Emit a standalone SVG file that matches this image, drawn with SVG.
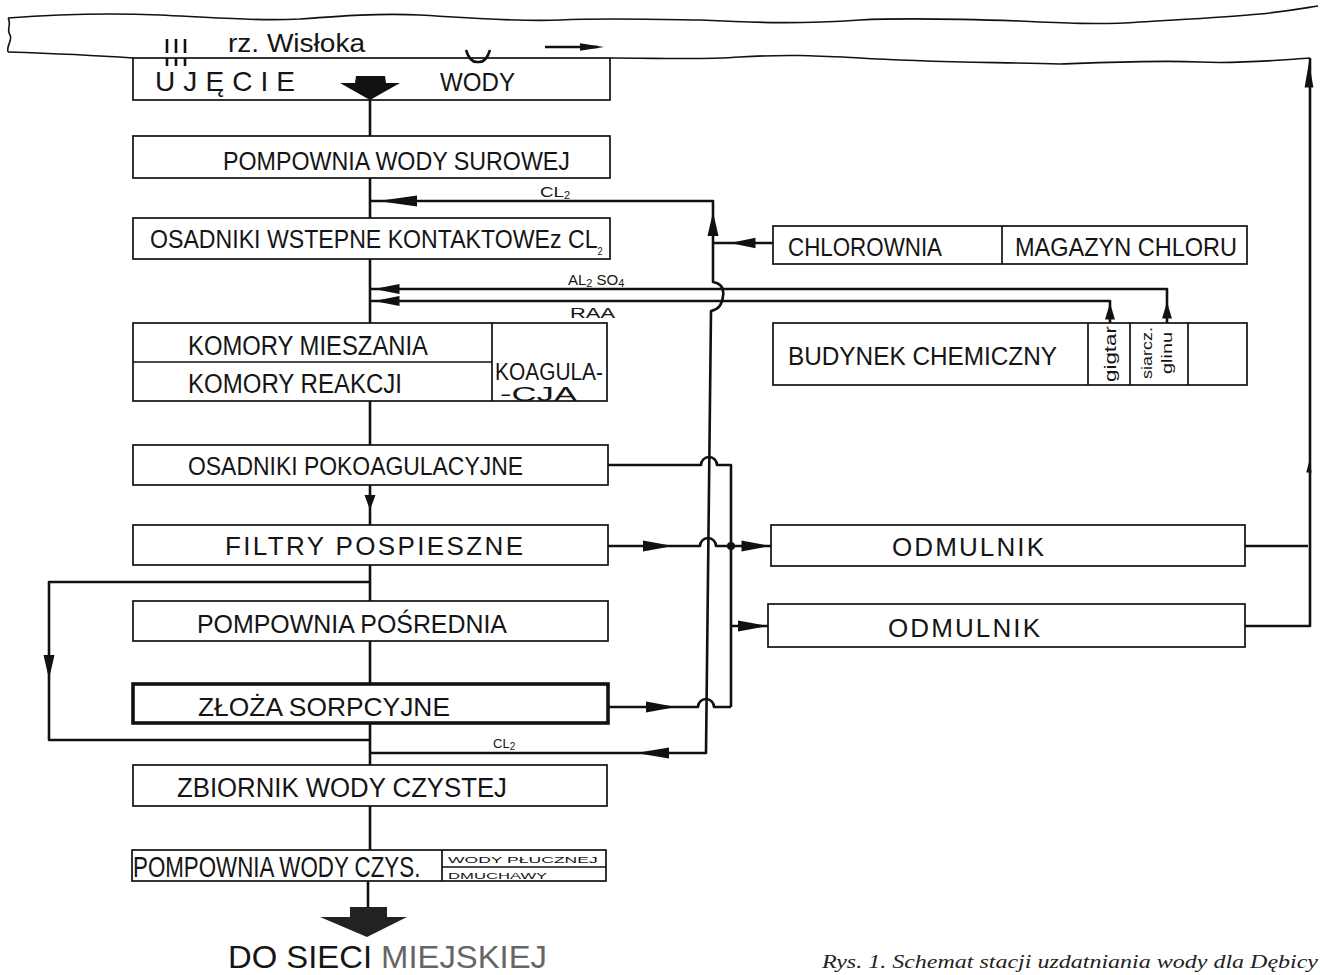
<svg xmlns="http://www.w3.org/2000/svg" xmlns:xlink="http://www.w3.org/1999/xlink" width="1320" height="975" viewBox="0 0 1320 975">
<defs>
<style>
.box{fill:none;stroke:#111;stroke-width:1.7}
.thick{fill:none;stroke:#111;stroke-width:3.6}
.ln{fill:none;stroke:#111;stroke-width:2.6;stroke-linejoin:round}
.thin{fill:none;stroke:#111;stroke-width:1.6}
.t{font-family:"Liberation Sans",Arial,sans-serif;fill:#151515}
.s{font-family:"Liberation Sans",Arial,sans-serif;fill:#151515;font-size:9px}
.ah{fill:#111}
.cap{font-family:"Liberation Serif","Times New Roman",serif;font-style:italic;fill:#222;font-size:19px}
</style>
<path id="ah" d="M0,0 L-30,-5.5 L-30,5.5 Z"/>
</defs>
<rect width="1320" height="975" fill="#fff"/>

<g id="river">
<path class="thin" d="M8,18 C60,14 110,13 160,15 C220,18 260,21 300,19 C340,16 380,13 420,15 C470,18 520,22 560,20 C600,18 640,19 700,20 C760,23 800,24 860,20 C900,18 960,19 1020,21 C1060,23 1100,25 1140,22 C1190,19 1230,17 1260,14 C1290,11 1305,8 1318,6"/>
<path class="thin" d="M8,52 C40,53 90,55 133,58 M610,58 C660,58 700,60 740,57 C790,54 820,56 860,58 C920,62 980,62 1060,64 C1120,62 1160,60 1200,62 C1240,64 1280,60 1310,58"/>
<path class="thin" d="M8,18 C12,24 6,30 10,35 C13,40 6,46 8,52"/>
<text class="t" x="228" y="52" font-size="26" textLength="137" lengthAdjust="spacingAndGlyphs">rz. Wisłoka</text>
<path class="ln" d="M167,39 V53 M176,39 V53 M185,39 V53 M167,58 V66 M176,58 V66 M185,58 V66" stroke-width="2.4"/>
<path class="ln" d="M466,50 Q470,63 478,62 Q486,63 490,50" stroke-width="2.4"/>
<path class="ln" d="M545,47 H598" stroke-width="2"/>
<use href="#ah" class="ah" transform="translate(604,47) scale(0.8,0.7)"/>
</g>

<g id="ujecie">
<rect class="box" x="133" y="58" width="477" height="42"/>
<text class="t" x="155" y="91" font-size="28" textLength="140" lengthAdjust="spacing">UJĘCIE</text>
<text class="t" x="440" y="91" font-size="25" textLength="75" lengthAdjust="spacingAndGlyphs">WODY</text>
<path fill="#111" d="M356,76 H385 L386,83 H400 L370,100 L340,83 H355 Z"/>
</g>

<g id="pompownia-surowej">
<rect class="box" x="133" y="136" width="477" height="42"/>
<text class="t" x="223" y="170" font-size="25" textLength="347" lengthAdjust="spacingAndGlyphs">POMPOWNIA WODY SUROWEJ</text>
</g>

<g id="osadniki-wstepne">
<rect class="box" x="133" y="218" width="477" height="41"/>
<text class="t" transform="translate(150,248) scale(0.925,1)" font-size="25">OSADNIKI WSTEPNE KONTAKTOWEz CL<tspan font-size="10" dy="7">2</tspan></text>
</g>

<g id="komory">
<rect class="box" x="133" y="323" width="474" height="78"/>
<path class="box" d="M133,362 H492 M492,323 V401"/>
<text class="t" x="188" y="355" font-size="27" textLength="240" lengthAdjust="spacingAndGlyphs">KOMORY MIESZANIA</text>
<text class="t" x="188" y="393" font-size="27" textLength="214" lengthAdjust="spacingAndGlyphs">KOMORY REAKCJI</text>
<text class="t" font-size="23"><tspan x="495" y="380" textLength="108" lengthAdjust="spacingAndGlyphs">KOAGULA-</tspan><tspan x="500" y="401" font-size="20" textLength="77" lengthAdjust="spacingAndGlyphs">-CJA</tspan></text>
</g>

<g id="osadniki-pokoagulacyjne">
<rect class="box" x="133" y="445" width="475" height="40"/>
<text class="t" x="188" y="475" font-size="25" textLength="335" lengthAdjust="spacingAndGlyphs">OSADNIKI POKOAGULACYJNE</text>
</g>

<g id="filtry">
<rect class="box" x="133" y="525" width="475" height="40"/>
<text class="t" x="225" y="555" font-size="26" textLength="298" lengthAdjust="spacing">FILTRY  POSPIESZNE</text>
</g>

<g id="pompownia-posrednia">
<rect class="box" x="133" y="601" width="475" height="40"/>
<text class="t" x="197" y="633" font-size="25" textLength="310" lengthAdjust="spacingAndGlyphs">POMPOWNIA  POŚREDNIA</text>
</g>

<g id="zloza">
<rect class="thick" x="133" y="684" width="475" height="39"/>
<text class="t" x="198" y="716" font-size="25" textLength="252" lengthAdjust="spacingAndGlyphs">ZŁOŻA  SORPCYJNE</text>
</g>

<g id="zbiornik">
<rect class="box" x="133" y="765" width="474" height="41"/>
<text class="t" x="177" y="797" font-size="27" textLength="330" lengthAdjust="spacingAndGlyphs">ZBIORNIK WODY CZYSTEJ</text>
</g>

<g id="pompownia-czystej">
<rect class="box" x="132" y="850" width="474" height="31"/>
<path class="box" d="M442,850 V881 M442,867 H606"/>
<text class="t" transform="translate(133,877) scale(0.77,1)" font-size="29">POMPOWNIA WODY CZYS.</text>
<text class="s" transform="translate(448,862.5) scale(1.95,1)">WODY PŁUCZNEJ</text>
<text class="s" transform="translate(448,878.5) scale(1.85,1)">DMUCHAWY</text>
</g>

<g id="do-sieci">
<path fill="#222" d="M350,907 H387 V917 H407 L367,937 L320,917 H350 Z"/>
<text class="t" x="228" y="968" font-size="32" textLength="319" lengthAdjust="spacingAndGlyphs">DO SIECI <tspan fill="#666">MIEJSKIEJ</tspan></text>
</g>

<g id="chlorownia">
<rect class="box" x="773" y="226" width="474" height="38"/>
<path class="box" d="M1002,226 V264"/>
<text class="t" x="788" y="256" font-size="25" textLength="154" lengthAdjust="spacingAndGlyphs">CHLOROWNIA</text>
<text class="t" x="1015" y="256" font-size="25" textLength="222" lengthAdjust="spacingAndGlyphs">MAGAZYN CHLORU</text>
</g>

<g id="budynek-chemiczny">
<rect class="box" x="773" y="323" width="474" height="62"/>
<path class="box" d="M1088,323 V385 M1130,323 V385 M1188,323 V385"/>
<text class="t" x="788" y="365" font-size="25" textLength="269" lengthAdjust="spacingAndGlyphs">BUDYNEK CHEMICZNY</text>
<text class="t" transform="translate(1116,354) rotate(-90)" text-anchor="middle" font-size="17" textLength="56" lengthAdjust="spacingAndGlyphs">gigtar</text>
<text class="t" transform="translate(1152,353) rotate(-90)" text-anchor="middle" font-size="15" textLength="52" lengthAdjust="spacingAndGlyphs">siarcz.</text>
<text class="t" transform="translate(1172,353) rotate(-90)" text-anchor="middle" font-size="15" textLength="42" lengthAdjust="spacingAndGlyphs">glinu</text>
</g>

<g id="odmulnik-1">
<rect class="box" x="771" y="525" width="474" height="41"/>
<text class="t" x="892" y="556" font-size="26" textLength="152" lengthAdjust="spacing">ODMULNIK</text>
</g>

<g id="odmulnik-2">
<rect class="box" x="768" y="604" width="477" height="43"/>
<text class="t" x="888" y="637" font-size="26" textLength="152" lengthAdjust="spacing">ODMULNIK</text>
</g>

<g id="connectors">
<path class="ln" d="M370,100 V136 M370,178 V218 M370,259 V323 M370,401 V445 M370,485 V525 M370,565 V601 M370,641 V684 M370,723 V765 M370,806 V850 M368,881 V908"/>
<use href="#ah" class="ah" transform="translate(370,510) rotate(90) scale(0.5,1)"/>
<path class="ln" d="M370,582 H49 V740 H370"/>
<use href="#ah" class="ah" transform="translate(49,679) rotate(90) scale(0.8,1)"/>
<path class="ln" d="M370,201 H713 V282 Q725,284 723,296 Q722,309 711,311 L706,753 H370"/>
<use href="#ah" class="ah" transform="translate(378,201) rotate(180) scale(1.3,1)"/>
<use href="#ah" class="ah" transform="translate(713,212) rotate(-90) scale(0.8,1)"/>
<path class="ln" d="M773,243 H713"/>
<use href="#ah" class="ah" transform="translate(730,243) rotate(180) scale(0.85,0.95)"/>
<text class="t" x="540" y="197" font-size="15"><tspan textLength="24" lengthAdjust="spacingAndGlyphs">CL</tspan><tspan font-size="11" dy="2">2</tspan></text>
<use href="#ah" class="ah" fill="#444" transform="translate(636,753) rotate(180) scale(1.1,1)"/>
<text class="t" x="493" y="748" font-size="13" fill="#555">CL<tspan font-size="10" dy="2">2</tspan></text>
<path class="ln" d="M370,289 H1167 V323"/>
<path class="ln" d="M370,301 H1110 V323"/>
<use href="#ah" class="ah" transform="translate(374,289) rotate(180) scale(0.85,0.9)"/>
<use href="#ah" class="ah" transform="translate(374,301) rotate(180) scale(0.85,0.9)"/>
<use href="#ah" class="ah" transform="translate(1167,302) rotate(-90) scale(0.55,0.9)"/>
<use href="#ah" class="ah" transform="translate(1110,303) rotate(-90) scale(0.55,0.9)"/>
<text class="t" x="568" y="285" font-size="15">AL<tspan font-size="11" dy="2">2</tspan><tspan dx="4" dy="-2">SO</tspan><tspan font-size="11" dy="2">4</tspan></text>
<text class="t" x="570" y="318" font-size="14" textLength="45" lengthAdjust="spacingAndGlyphs">RAA</text>
<path class="ln" d="M608,465 H701 A8,8 0 0 1 717,465 H731 V707"/>
<path class="ln" d="M608,546 H700 A8,8 0 0 1 716,546 H771"/>
<path class="ln" d="M608,707 H698 A8,8 0 0 1 714,707 H731"/>
<path class="ln" d="M731,626 H768"/>
<circle cx="731" cy="546" r="4" fill="#111"/>
<use href="#ah" class="ah" transform="translate(673,546)"/>
<use href="#ah" class="ah" transform="translate(770,546) scale(0.95,1)"/>
<use href="#ah" class="ah" transform="translate(768,626)"/>
<use href="#ah" class="ah" transform="translate(676,707)"/>
<path class="ln" d="M1245,546 H1308 M1245,626 H1310 V58" stroke-width="2"/>
<use href="#ah" class="ah" transform="translate(1309,62) rotate(-90) scale(0.85,0.8)"/>
<use href="#ah" class="ah" transform="translate(1309,462) rotate(-90) scale(0.35,0.5)"/>
</g>

<text class="cap" x="822" y="968" textLength="496" lengthAdjust="spacingAndGlyphs">Rys. 1. Schemat stacji uzdatniania wody dla Dębicy</text>
</svg>
